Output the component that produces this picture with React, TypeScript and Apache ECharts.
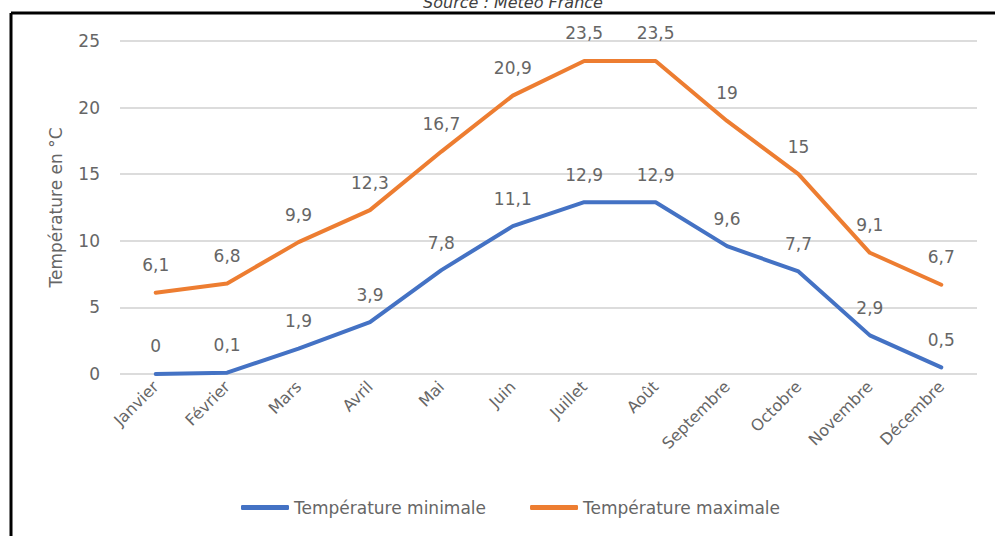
import React, { useEffect, useRef } from "react";
import * as echarts from "echarts";

const months = ["Janvier", "Février", "Mars", "Avril", "Mai", "Juin", "Juillet", "Août", "Septembre", "Octobre", "Novembre", "Décembre"];
const tMin = [0, 0.1, 1.9, 3.9, 7.8, 11.1, 12.9, 12.9, 9.6, 7.7, 2.9, 0.5];
const tMax = [6.1, 6.8, 9.9, 12.3, 16.7, 20.9, 23.5, 23.5, 19, 15, 9.1, 6.7];
const seriesNames = ["Température minimale", "Température maximale"];
const yTitle = "Température en °C";
const sourceText = "Source : Météo France";

const FONT = "DejaVu Sans";
const GREY = "#666666";

export default function App() {
  const ref = useRef<HTMLDivElement>(null);
  useEffect(() => {
    if (!ref.current) return;
    const chart = echarts.init(ref.current, null, { renderer: "svg" });
    const fmt = (p: any) => String(p.value).replace(".", ",");
    const mkSeries = (name: string, data: number[], color: string) => ({
      name,
      type: "line",
      data,
      color,
      showSymbol: true,
      symbol: "circle",
      symbolSize: 0.01,
      itemStyle: { color },
      lineStyle: { width: 4, color, cap: "round", join: "round" },
      label: {
        show: true,
        position: "top",
        distance: 19,
        formatter: fmt,
        color: GREY,
        fontFamily: FONT,
        fontSize: 17,
      },
      labelLayout: { hideOverlap: false },
    });
    chart.setOption({
      animation: false,
      backgroundColor: "#ffffff",
      textStyle: { fontFamily: FONT },
      title: {
        text: sourceText,
        left: 508,
        textAlign: "center",
        top: -11,
        textStyle: { fontFamily: FONT, fontSize: 16, fontStyle: "italic", fontWeight: "normal", color: "#404040" },
      },
      grid: { left: 120, right: 18, top: 41, bottom: 162, containLabel: false },
      xAxis: {
        type: "category",
        data: months,
        boundaryGap: true,
        axisLine: { show: false },
        axisTick: { show: false },
        axisLabel: { rotate: 45, color: GREY, fontFamily: FONT, fontSize: 16, margin: 10, interval: 0 },
      },
      yAxis: {
        type: "value",
        min: 0,
        max: 25,
        interval: 5,
        name: yTitle,
        nameLocation: "middle",
        nameGap: 56,
        nameRotate: 90,
        nameTextStyle: { color: GREY, fontFamily: FONT, fontSize: 17 },
        axisLine: { show: false },
        axisTick: { show: false },
        axisLabel: { color: GREY, fontFamily: FONT, fontSize: 17, margin: 20 },
        splitLine: { lineStyle: { color: "#d0d0d0", width: 1.5 } },
      },
      legend: {
        data: seriesNames,
        left: 236,
        top: 494,
        itemWidth: 48,
        itemHeight: 5,
        itemGap: 44,
        icon: "roundRect",
        textStyle: { color: GREY, fontFamily: FONT, fontSize: 17, padding: [0, 0, 0, 0] },
      },
      graphic: [
        { type: "line", shape: { x1: 11, y1: 13, x2: 995, y2: 13 }, style: { stroke: "#000", lineWidth: 3 } },
        { type: "line", shape: { x1: 11, y1: 13, x2: 11, y2: 536 }, style: { stroke: "#000", lineWidth: 3 } },
      ],
      series: [mkSeries(seriesNames[0], tMin, "#4472C4"), mkSeries(seriesNames[1], tMax, "#ED7D31")],
    });
    return () => chart.dispose();
  }, []);
  return <div ref={ref} style={{ position: "fixed", left: 0, top: 0, width: 995, height: 536 }} />;
}
